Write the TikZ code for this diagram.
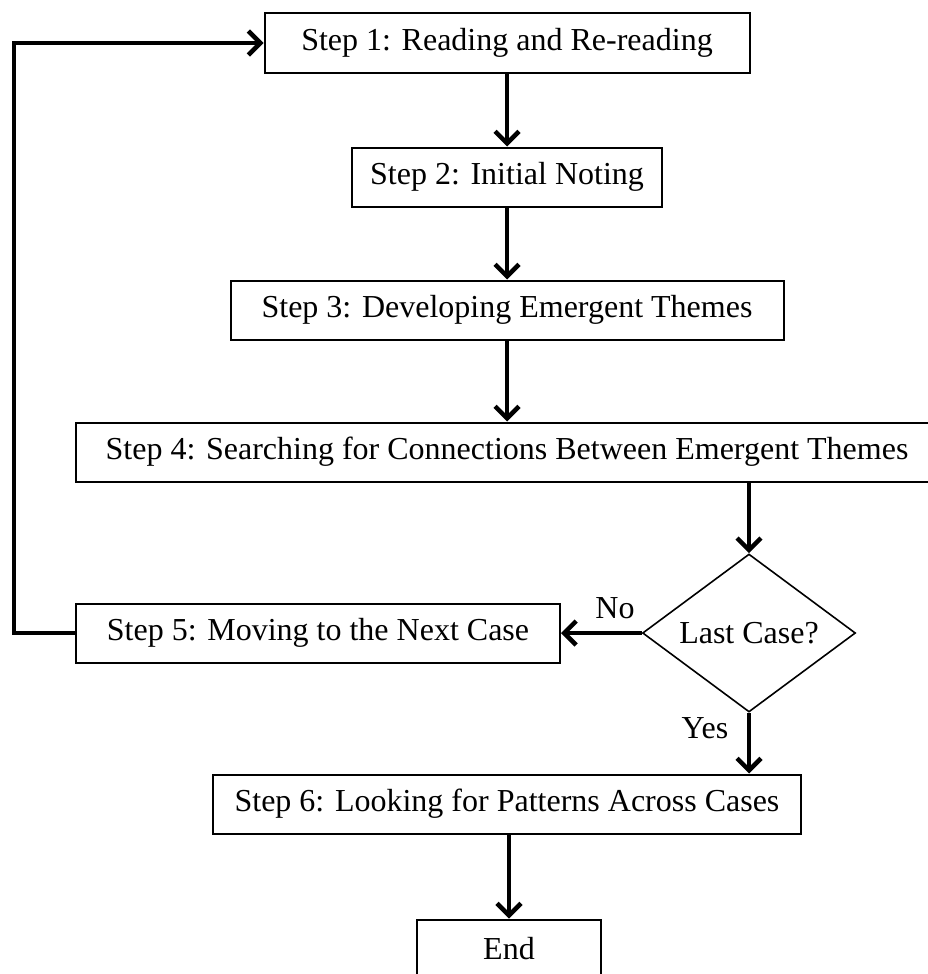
\documentclass[tikz,border=0pt]{standalone}
\usepackage{fontspec}
\setmainfont{Liberation Serif}
\usetikzlibrary{arrows.meta,shapes.geometric}

\tikzset{
  stepbox/.style={draw, line width=2pt, inner sep=0pt, minimum height=59pt,
    font=\fontsize{32}{37}\selectfont},
  decision/.style={draw, diamond, aspect=1.35, line width=1.6pt, inner sep=0pt,
    minimum width=213pt, minimum height=158pt, font=\fontsize{32}{37}\selectfont},
  branchlabel/.style={inner sep=0pt, font=\fontsize{32}{37}\selectfont},
  flowarrow/.style={line width=4.5pt, -{Straight Barb[length=12pt,width=24pt]}},
}

\begin{document}
\begin{tikzpicture}[x=1pt, y=-1pt]
		%%%%% START %%%%%
		\useasboundingbox (0, 0) rectangle (927, 974);
		
		\node[stepbox, minimum width=485pt] (s1) at (507, 43) {Step 1: Reading and Re-reading};
		\node[stepbox, minimum width=310pt] (s2) at (507, 177) {Step 2: Initial Noting};
		\node[stepbox, minimum width=553pt] (s3) at (507, 310) {Step 3: Developing Emergent Themes};
		\node[stepbox, minimum width=862pt] (s4) at (507, 452) {Step 4: Searching for Connections Between Emergent Themes};
		
		\node[decision] (dec) at (749, 633) {Last Case?};
		\node[stepbox, minimum width=484pt] (s5) at (318, 633) {Step 5: Moving to the Next Case};
		
		\node[stepbox, minimum width=588pt] (s6) at (507, 804) {Step 6: Looking for Patterns Across Cases};
		\node[stepbox, minimum width=184pt] (end) at (509, 949) {End};
		
		\node[branchlabel] (no) at (615, 608) {No};
		\node[branchlabel] (yes) at (705, 728) {Yes};
		
		\draw[flowarrow] (s1.south) -- (s2.north);
		\draw[flowarrow] (s2.south) -- (s3.north);
		\draw[flowarrow] (s3.south) -- (s4.north);
		\draw[flowarrow] (dec.north |- s4.south) -- (dec.north);
		\draw[flowarrow] (dec.west) -- (s5.east);
		\draw[flowarrow] (dec.south) -- (dec.south |- s6.north);
		\draw[flowarrow] (s6.south -| end.north) -- (end.north);
		
		\draw[flowarrow] (s5.west) -- ++(-61, 0) |- (s1.west);
		
		%%%%% END %%%%%
	\end{tikzpicture}
\end{document}
